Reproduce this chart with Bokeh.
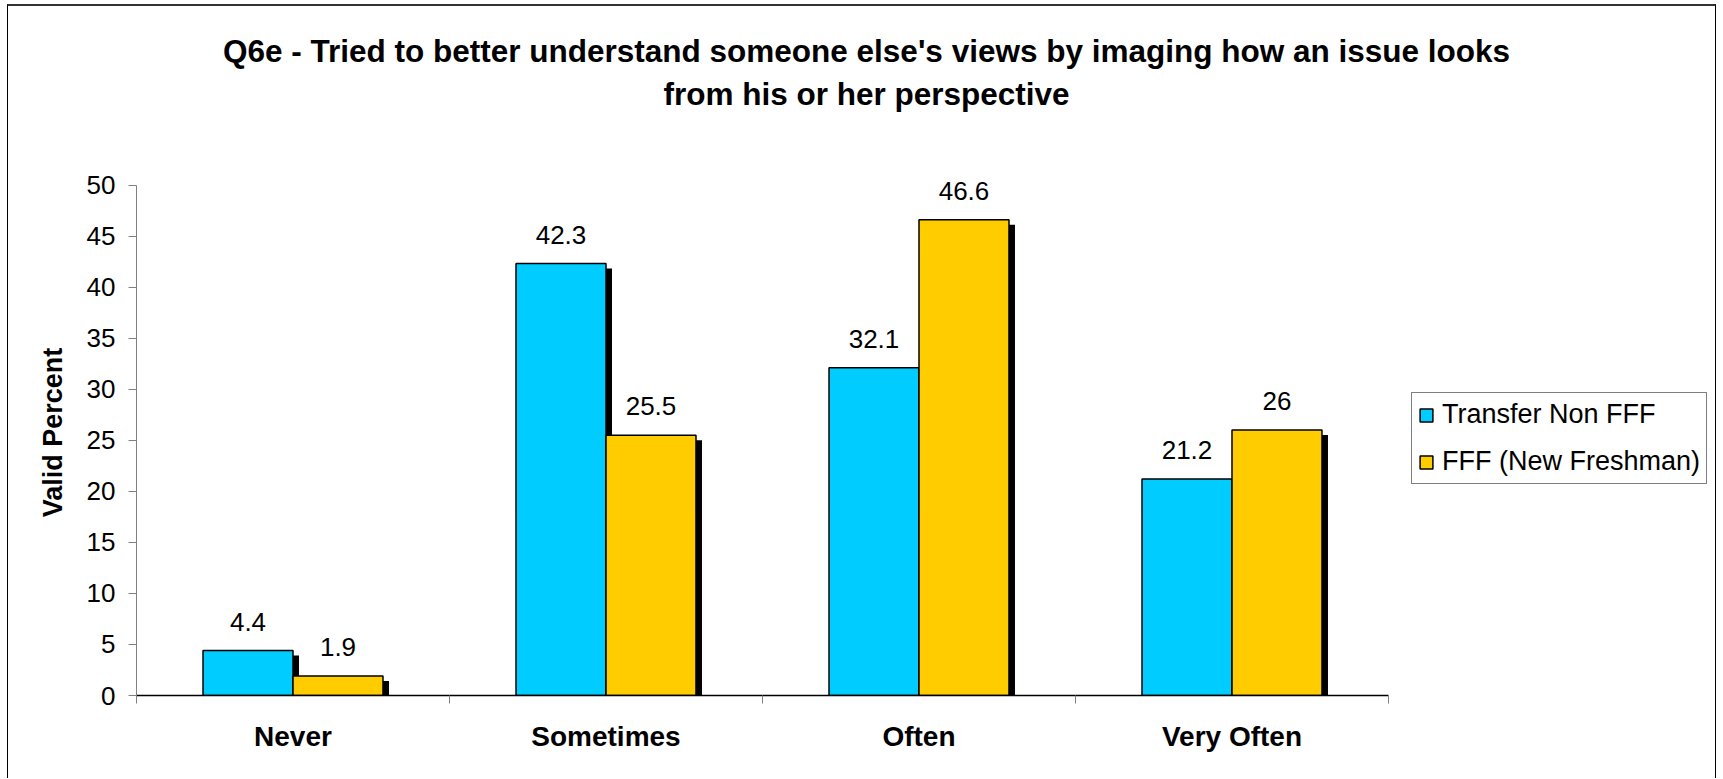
from bokeh.plotting import figure
from bokeh.layouts import column
from bokeh.models import (Range1d, LinearAxis, FixedTicker, Label,
                          ColumnDataSource, LabelSet, Legend, LegendItem)
from bokeh.transform import dodge
from bokeh.core.properties import value
from bokeh.embed import file_html
from bokeh.resources import INLINE

# ---------------- data ----------------
title_lines = ["Q6e - Tried to better understand someone else's views by imaging how an issue looks",
               "from his or her perspective"]
categories = ["Never", "Sometimes", "Often", "Very Often"]
series_names = ["Transfer Non FFF", "FFF (New Freshman)"]
transfer_non_fff = [4.4, 42.3, 32.1, 21.2]
fff_new_freshman = [1.9, 25.5, 46.6, 26]
y_ticks = [0, 5, 10, 15, 20, 25, 30, 35, 40, 45, 50]
y_label = "Valid Percent"

# ---------------- style / layout ----------------
FONT = "Liberation Sans"
COLORS = ["#00CCFF", "#FFCC00"]
W = 1707
TH, H = 163, 609               # title strip height, chart height
BL, BB = 128, 83               # left / bottom axis panels
RIGHT_PAD, TOP_PAD = 327, 15.5 # room inside the frame for legend / data labels
BAR_W = 0.2875
n_cat = len(categories)
y_max = y_ticks[-1]
frame_w, frame_h = W - BL, H - BB
px_x = n_cat / (frame_w - RIGHT_PAD)     # x units per pixel
px_y = y_max / (frame_h - TOP_PAD)       # y units per pixel
SH_DX, SH_DY = 6 * px_x, 5 * px_y
TITLE_CX = 858              # title centre, px from left
TITLE_CY = [44, 87]         # title line centres, px from top
LEG_LEFT, LEG_BOTTOM = frame_w - RIGHT_PAD + 23, 211   # px in frame

centers = [i + 0.5 for i in range(n_cat)]
bounds = list(range(n_cat + 1))

# ---------- title strip (its frame is aligned with the chart frame) ----------
tfig = figure(x_range=Range1d(BL, W), y_range=Range1d(0, TH), width=W, height=TH,
              output_backend="svg", toolbar_location=None,
              x_axis_location=None, y_axis_location=None,
              min_border_left=0, min_border_right=0, min_border_top=0, min_border_bottom=0,
              outline_line_color=None, background_fill_color="white", border_fill_color="white")
tfig.grid.visible = False
for line, cy in zip(title_lines, TITLE_CY):
    tfig.add_layout(Label(x=TITLE_CX, y=TH - cy, text=line,
                          text_align="center", text_baseline="middle",
                          text_font=FONT, text_font_size="31.5px", text_font_style="bold",
                          text_color="black"))

# ---------- chart ----------
p = figure(x_range=Range1d(0, frame_w * px_x), y_range=Range1d(0, frame_h * px_y),
           width=W, height=H, output_backend="svg", toolbar_location=None,
           x_axis_location=None, y_axis_location=None,
           min_border_left=BL, min_border_right=0, min_border_top=0, min_border_bottom=BB,
           outline_line_color=None, background_fill_color="white", border_fill_color="white")
p.grid.visible = False

# y axis
yaxis = LinearAxis(ticker=FixedTicker(ticks=y_ticks), axis_label=y_label,
                   bounds=(y_ticks[0], y_ticks[-1]))
yaxis.axis_line_color = "#808080"
yaxis.major_tick_line_color = "#808080"
yaxis.major_tick_out = 8
yaxis.major_tick_in = 0
yaxis.minor_tick_out = 0
yaxis.minor_tick_in = 0
yaxis.major_label_standoff = 13
yaxis.major_label_text_font = FONT
yaxis.major_label_text_font_size = "26px"
yaxis.major_label_text_color = "black"
yaxis.axis_label_text_font = FONT
yaxis.axis_label_text_font_size = "27px"
yaxis.axis_label_text_font_style = "bold"
yaxis.axis_label_text_color = "black"
yaxis.axis_label_standoff = 16
p.add_layout(yaxis, "left")

# x axis: labels at category centres, small ticks at category boundaries
xaxis = LinearAxis(ticker=FixedTicker(ticks=centers, minor_ticks=bounds),
                   bounds=(0, n_cat))
xaxis.major_label_overrides = {c: name for c, name in zip(centers, categories)}
xaxis.axis_line_color = "black"
xaxis.axis_line_width = 1.5
xaxis.major_tick_line_color = None
xaxis.major_tick_out = 0
xaxis.major_tick_in = 0
xaxis.minor_tick_line_color = "#808080"
xaxis.minor_tick_out = 8
xaxis.minor_tick_in = 0
xaxis.major_label_standoff = 17
xaxis.major_label_text_font = FONT
xaxis.major_label_text_font_size = "28px"
xaxis.major_label_text_font_style = "bold"
xaxis.major_label_text_color = "black"
p.add_layout(xaxis, "below")

# bars
series = [transfer_non_fff, fff_new_freshman]
offsets = [-BAR_W / 2, BAR_W / 2]
sources = []
for vals in series:
    sources.append(ColumnDataSource(dict(
        x=centers, val=vals,
        shadow_top=[v - SH_DY for v in vals],
        txt=[f"{v:g}" for v in vals])))

for src, off in zip(sources, offsets):
    p.vbar(x=dodge("x", off + SH_DX), top="shadow_top", bottom=0,
           width=BAR_W, source=src, fill_color="black", line_color=None)

bar_renderers = []
for src, off, col in zip(sources, offsets, COLORS):
    r = p.vbar(x=dodge("x", off), top="val", bottom=0, width=BAR_W,
               source=src, fill_color=col, line_color="black", line_width=1.5)
    bar_renderers.append(r)
    p.add_layout(LabelSet(x=dodge("x", off), y="val", text="txt",
                          source=src, text_align="center", text_baseline="alphabetic",
                          y_offset=20, text_font=value(FONT), text_font_size=value("26px"),
                          text_color="black"))

legend = Legend(items=[LegendItem(label=n, renderers=[r]) for n, r in zip(series_names, bar_renderers)],
                location=(LEG_LEFT, LEG_BOTTOM), margin=0, padding=6, spacing=16,
                glyph_width=16, glyph_height=16, label_standoff=8,
                label_text_font=FONT, label_text_font_size="27px", label_text_color="black",
                border_line_color="black", border_line_width=1, background_fill_color="white")
p.add_layout(legend, "center")

layout = column(tfig, p, spacing=0,
                styles={"margin-left": "7px", "margin-top": "4px",
                        "border-left": "1px solid #000", "border-right": "1px solid #000",
                        "border-top": "2px solid #333"})

open("out.html", "w").write(file_html(layout, INLINE))
